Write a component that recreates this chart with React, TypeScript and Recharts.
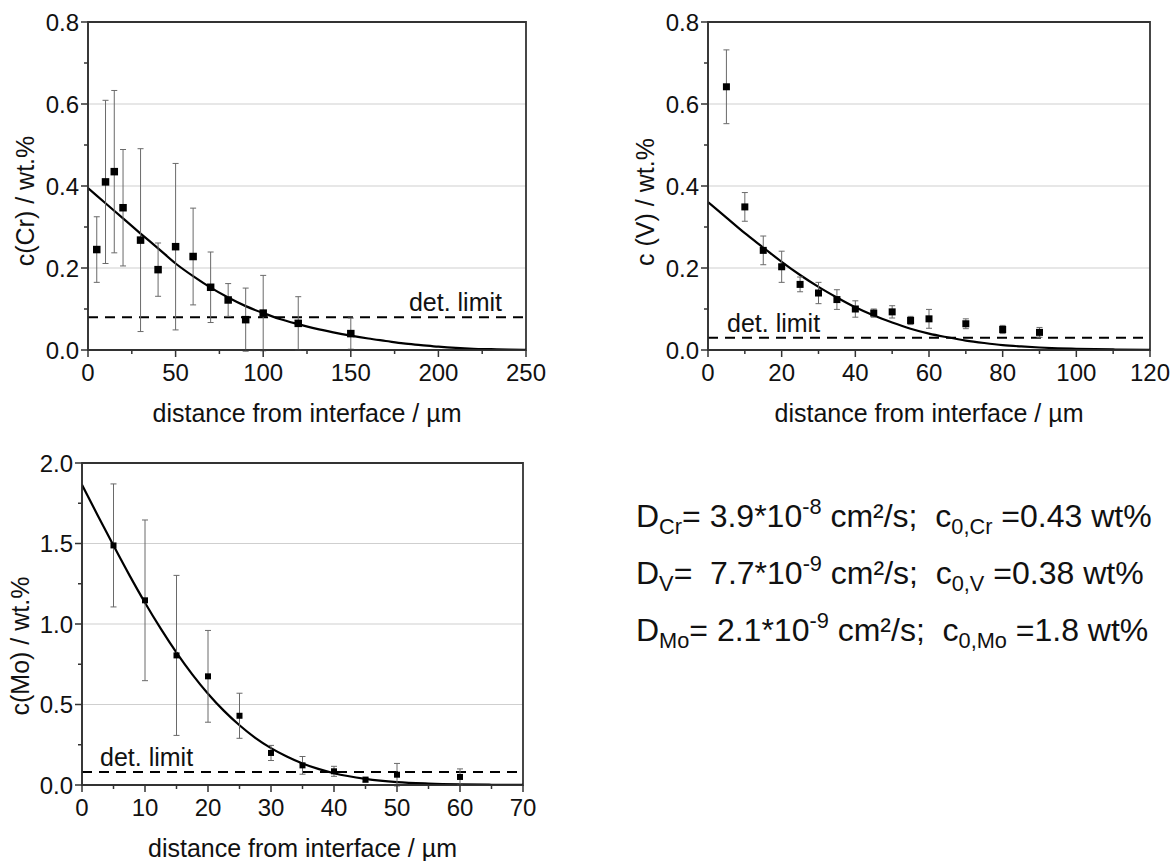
import React from 'react'
import {
  ComposedChart, Scatter, Line, XAxis, YAxis, CartesianGrid,
  ErrorBar, ReferenceLine, ReferenceArea, Label,
} from 'recharts'

const FONT = '"Liberation Sans", Arial, Helvetica, sans-serif'
const AXIS = '#333333'
const X_TITLE = 'distance from interface / µm'

// --- Cr ---
const crX = [5, 10, 15, 20, 30, 40, 50, 60, 70, 80, 90, 100, 120, 150]
const crY = [0.245, 0.41, 0.435, 0.347, 0.268, 0.196, 0.252, 0.228, 0.153, 0.122, 0.074, 0.09, 0.065, 0.04]
const crErr = [0.08, 0.199, 0.198, 0.142, 0.223, 0.065, 0.203, 0.118, 0.086, 0.04, 0.077, 0.092, 0.065, 0.038]
const crFitX = [0, 10, 20, 30, 40, 50, 60, 70, 80, 90, 100, 110, 120, 130, 140, 150, 160, 170, 180, 190, 200, 210, 220, 230, 240, 250]
const crFitY = [0.395, 0.358, 0.321, 0.284, 0.248, 0.211, 0.18, 0.152, 0.128, 0.107, 0.09, 0.075, 0.063, 0.052, 0.043, 0.035, 0.028, 0.022, 0.016, 0.012, 0.008, 0.005, 0.003, 0.002, 0.001, 0.0005]
const crDetLimit = 0.08
const crXMajor = [0, 50, 100, 150, 200, 250]
const crXMinor = [25, 75, 125, 175, 225]

// --- V ---
const vX = [5, 10, 15, 20, 25, 30, 35, 40, 45, 50, 55, 60, 70, 80, 90]
const vY = [0.642, 0.349, 0.243, 0.203, 0.16, 0.139, 0.123, 0.1, 0.09, 0.093, 0.072, 0.076, 0.064, 0.05, 0.043]
const vErr = [0.09, 0.035, 0.035, 0.038, 0.018, 0.026, 0.024, 0.02, 0.01, 0.015, 0.01, 0.023, 0.012, 0.01, 0.012]
const vFitX = [0, 5, 10, 15, 20, 25, 30, 35, 40, 45, 50, 55, 60, 65, 70, 75, 80, 85, 90, 95, 100, 110, 120]
const vFitY = [0.361, 0.323, 0.285, 0.25, 0.215, 0.183, 0.154, 0.128, 0.104, 0.084, 0.067, 0.052, 0.04, 0.031, 0.023, 0.017, 0.012, 0.0087, 0.0061, 0.0042, 0.0029, 0.0013, 0.0005]
const vDetLimit = 0.03
const vXMajor = [0, 20, 40, 60, 80, 100, 120]
const vXMinor = [10, 30, 50, 70, 90, 110]

// --- Mo ---
const moX = [5, 10, 15, 20, 25, 30, 35, 40, 45, 50, 60]
const moY = [1.488, 1.147, 0.805, 0.675, 0.43, 0.199, 0.122, 0.085, 0.033, 0.064, 0.05]
const moErr = [0.382, 0.499, 0.497, 0.285, 0.14, 0.047, 0.055, 0.031, 0.015, 0.07, 0.05]
const moFitX = [0, 2.5, 5, 7.5, 10, 12.5, 15, 17.5, 20, 22.5, 25, 27.5, 30, 32.5, 35, 37.5, 40, 45, 50, 55, 60, 65, 70]
const moFitY = [1.865, 1.674, 1.487, 1.305, 1.132, 0.971, 0.822, 0.687, 0.567, 0.462, 0.371, 0.293, 0.229, 0.177, 0.134, 0.1, 0.073, 0.038, 0.018, 0.0088, 0.0039, 0.0017, 0.0007]
const moDetLimit = 0.08
const moXMajor = [0, 10, 20, 30, 40, 50, 60, 70]
const moXMinor = [5, 15, 25, 35, 45, 55, 65]

const y08Major = [0, 0.2, 0.4, 0.6, 0.8]
const y08Minor = [0.1, 0.3, 0.5, 0.7]
const y2Major = [0, 0.5, 1.0, 1.5, 2.0]
const y2Minor = [0.25, 0.75, 1.25, 1.75]

const formulaLines = [
  { el: 'Cr', d: ' 3.9', exp: '-8', c0: '0.43' },
  { el: 'V', d: '  7.7', exp: '-9', c0: '0.38' },
  { el: 'Mo', d: ' 2.1', exp: '-9', c0: '1.8' },
]

const toPoints = (xs: number[], ys: number[], es: number[]) => xs.map((x, i) => ({ x, y: ys[i], err: es[i] }))
const toCurve = (xs: number[], ys: number[]) => xs.map((x, i) => ({ x, y: ys[i] }))

function xTick(major: number[]) {
  return (p: any) => {
    const v = p.payload.value
    const isMajor = major.indexOf(v) >= 0
    return (
      <g>
        <line x1={p.x} y1={p.y} x2={p.x} y2={p.y + (isMajor ? 7 : 4)} stroke={AXIS} strokeWidth={1.5} />
        {isMajor && (
          <text x={p.x} y={p.y + 22} textAnchor="middle" dominantBaseline="central" fontSize={24} fontFamily={FONT} fill="#111">
            {v}
          </text>
        )}
      </g>
    )
  }
}

function yTick(major: number[]) {
  return (p: any) => {
    const v = p.payload.value
    const isMajor = major.indexOf(v) >= 0
    return (
      <g>
        <line x1={p.x} y1={p.y} x2={p.x - (isMajor ? 7 : 4)} y2={p.y} stroke={AXIS} strokeWidth={1.5} />
        {isMajor && (
          <text x={p.x - 9} y={p.y} textAnchor="end" dominantBaseline="central" fontSize={24} fontFamily={FONT} fill="#111">
            {v.toFixed(1)}
          </text>
        )}
      </g>
    )
  }
}

interface PanelProps {
  left: number; top: number; width: number; height: number
  marginTop: number; marginRight: number; yAxisWidth: number; xAxisHeight: number
  points: { x: number; y: number; err: number }[]
  fit: { x: number; y: number }[]
  detLimit: number
  xMax: number; xMajor: number[]; xMinor: number[]
  yMax: number; yMajor: number[]; yMinor: number[]
  marker: number
  yTitle: string; yTitleDx: number; yTitleDy: number
  detSide: 'left' | 'right'; detInset: number
}

function Panel(p: PanelProps) {
  const xTicks = [...p.xMajor, ...p.xMinor].sort((a, b) => a - b)
  const yTicks = [...p.yMajor, ...p.yMinor].sort((a, b) => a - b)
  const gridVals = p.yMajor.filter(v => v > 0 && v < p.yMax)
  return (
    <div style={{ position: 'absolute', left: p.left, top: p.top }}>
      <ComposedChart width={p.width} height={p.height} margin={{ top: p.marginTop, right: p.marginRight, bottom: 0, left: 0 }}>
        <CartesianGrid vertical={false} horizontalValues={gridVals} stroke="#cfcfcf" strokeWidth={1} />
        <XAxis
          type="number" dataKey="x" domain={[0, p.xMax]} ticks={xTicks} interval={0}
          allowDataOverflow height={p.xAxisHeight} tickSize={0} tickMargin={0}
          axisLine={{ stroke: AXIS, strokeWidth: 1.5 }} tickLine={false} tick={xTick(p.xMajor)}
          label={<Label content={(lp: any) => {
            const vb = lp.viewBox
            return (
              <text x={vb.x + vb.width / 2} y={vb.y + 63} textAnchor="middle" dominantBaseline="central" fontSize={25} fontFamily={FONT} fill="#111">
                {X_TITLE}
              </text>
            )
          }} />}
        />
        <YAxis
          type="number" domain={[0, p.yMax]} ticks={yTicks} interval={0}
          allowDataOverflow width={p.yAxisWidth} tickSize={0} tickMargin={0}
          axisLine={{ stroke: AXIS, strokeWidth: 1.5 }} tickLine={false} tick={yTick(p.yMajor)}
          label={<Label content={(lp: any) => {
            const vb = lp.viewBox
            const cx = vb.x + p.yTitleDx
            const cy = vb.y + vb.height / 2 + p.yTitleDy
            return (
              <text x={cx} y={cy} transform={`rotate(-90 ${cx} ${cy})`} textAnchor="middle" dominantBaseline="central" fontSize={25} fontFamily={FONT} fill="#111">
                {p.yTitle}
              </text>
            )
          }} />}
        />
        <Line data={p.fit} dataKey="y" type="monotone" stroke="#000" strokeWidth={2.2} dot={false} activeDot={false} isAnimationActive={false} />
        <ReferenceLine
          y={p.detLimit} stroke="#000" strokeWidth={2} strokeDasharray="10 7"
          label={<Label content={(lp: any) => {
            const vb = lp.viewBox
            const right = p.detSide === 'right'
            return (
              <text x={right ? vb.x + vb.width - p.detInset : vb.x + p.detInset} y={vb.y - 15} textAnchor={right ? 'end' : 'start'} dominantBaseline="central" fontSize={25} fontFamily={FONT} fill="#111">
                det. limit
              </text>
            )
          }} />}
        />
        <Scatter
          data={p.points} dataKey="y" isAnimationActive={false}
          shape={(s: any) => <rect x={s.cx - p.marker / 2} y={s.cy - p.marker / 2} width={p.marker} height={p.marker} fill="#000" />}
        >
          <ErrorBar dataKey="err" direction="y" width={3} stroke="#6a6a6a" strokeWidth={1} isAnimationActive={false} />
        </Scatter>
        <ReferenceArea x1={0} x2={p.xMax} y1={0} y2={p.yMax} fill="none" fillOpacity={0} stroke={AXIS} strokeWidth={1.8} />
      </ComposedChart>
    </div>
  )
}

export default function App() {
  return (
    <div style={{ position: 'relative', width: 1173, height: 861, background: '#fff', fontFamily: FONT }}>
      <style>{'body{margin:0}'}</style>
      <Panel
        left={0} top={0} width={560} height={430} marginTop={22} marginRight={34} yAxisWidth={88} xAxisHeight={80}
        points={toPoints(crX, crY, crErr)} fit={toCurve(crFitX, crFitY)} detLimit={crDetLimit}
        xMax={250} xMajor={crXMajor} xMinor={crXMinor} yMax={0.8} yMajor={y08Major} yMinor={y08Minor}
        marker={7.5} yTitle="c(Cr) / wt.%" yTitleDx={25} yTitleDy={15} detSide="right" detInset={24}
      />
      <Panel
        left={580} top={0} width={593} height={430} marginTop={22} marginRight={23} yAxisWidth={128} xAxisHeight={80}
        points={toPoints(vX, vY, vErr)} fit={toCurve(vFitX, vFitY)} detLimit={vDetLimit}
        xMax={120} xMajor={vXMajor} xMinor={vXMinor} yMax={0.8} yMajor={y08Major} yMinor={y08Minor}
        marker={7} yTitle="c (V) / wt.%" yTitleDx={65} yTitleDy={16} detSide="left" detInset={19}
      />
      <Panel
        left={0} top={430} width={560} height={431} marginTop={33} marginRight={37} yAxisWidth={82} xAxisHeight={76}
        points={toPoints(moX, moY, moErr)} fit={toCurve(moFitX, moFitY)} detLimit={moDetLimit}
        xMax={70} xMajor={moXMajor} xMinor={moXMinor} yMax={2.0} yMajor={y2Major} yMinor={y2Minor}
        marker={6} yTitle="c(Mo) / wt.%" yTitleDx={20} yTitleDy={22} detSide="left" detInset={18}
      />
      {formulaLines.map((f, i) => (
        <div
          key={f.el}
          style={{ position: 'absolute', left: 636, top: 500 + i * 57, fontSize: 32, lineHeight: 1, whiteSpace: 'pre', color: '#111' }}
        >
          D<span style={{ fontSize: '0.68em', position: 'relative', top: '0.3em' }}>{f.el}</span>
          ={f.d}*10<span style={{ fontSize: '0.68em', position: 'relative', top: '-0.6em' }}>{f.exp}</span>
          {' cm²/s;  c'}<span style={{ fontSize: '0.68em', position: 'relative', top: '0.3em' }}>{'0,' + f.el}</span>
          {' =' + f.c0 + ' wt%'}
        </div>
      ))}
    </div>
  )
}
